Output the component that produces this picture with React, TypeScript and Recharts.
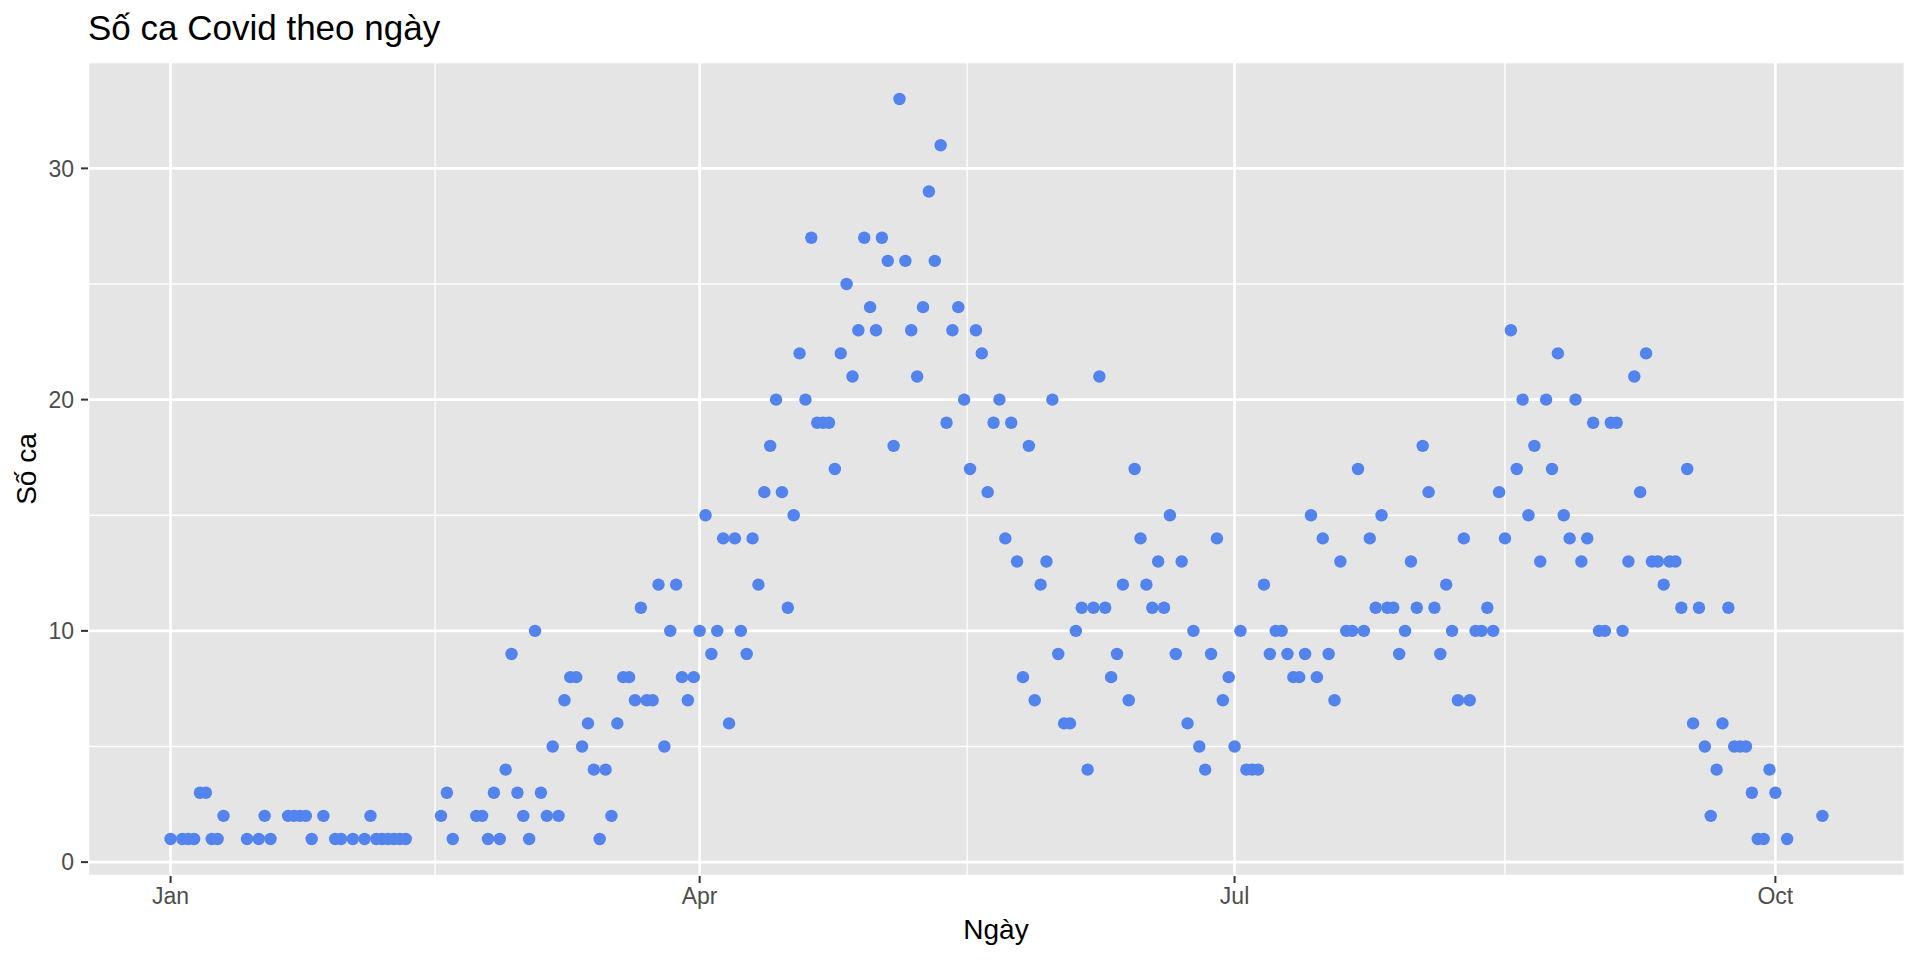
import { ScatterChart, Scatter, XAxis, YAxis, CartesianGrid } from "recharts"

const YEAR = 2021

// ngày có ca (MM-DD), bỏ các ngày 0 ca
const dates = [
  "01-01", "01-03", "01-04", "01-05", "01-06", "01-07", "01-08", "01-09", "01-10", "01-14", "01-16",
  "01-17", "01-18", "01-21", "01-22", "01-23", "01-24", "01-25", "01-27", "01-29", "01-30",
  "02-01", "02-03", "02-04", "02-05", "02-06", "02-07", "02-08", "02-09", "02-10", "02-16",
  "02-17", "02-18", "02-22", "02-23", "02-24", "02-25", "02-26", "02-27", "02-28",
  "03-01", "03-02", "03-03", "03-04", "03-05", "03-06", "03-07", "03-08", "03-09", "03-10", "03-11",
  "03-12", "03-13", "03-14", "03-15", "03-16", "03-17", "03-18", "03-19", "03-20", "03-21", "03-22",
  "03-23", "03-24", "03-25", "03-26", "03-27", "03-28", "03-29", "03-30", "03-31",
  "04-01", "04-02", "04-03", "04-04", "04-05", "04-06", "04-07", "04-08", "04-09", "04-10",
  "04-11", "04-12", "04-13", "04-14", "04-15", "04-16", "04-17", "04-18", "04-19", "04-20",
  "04-21", "04-22", "04-23", "04-24", "04-25", "04-26", "04-27", "04-28", "04-29", "04-30",
  "05-01", "05-02", "05-03", "05-04", "05-05", "05-06", "05-07", "05-08", "05-09", "05-10", "05-11",
  "05-12", "05-13", "05-14", "05-15", "05-16", "05-17", "05-18", "05-19", "05-20", "05-21",
  "05-22", "05-23", "05-24", "05-25", "05-26", "05-27", "05-28", "05-29", "05-30", "05-31",
  "06-01", "06-02", "06-03", "06-04", "06-05", "06-06", "06-07", "06-08", "06-09", "06-10",
  "06-11", "06-12", "06-13", "06-14", "06-15", "06-16", "06-17", "06-18", "06-19", "06-20",
  "06-21", "06-22", "06-23", "06-24", "06-25", "06-26", "06-27", "06-28", "06-29", "06-30",
  "07-01", "07-02", "07-03", "07-04", "07-05", "07-06", "07-07", "07-08", "07-09", "07-10", "07-11",
  "07-12", "07-13", "07-14", "07-15", "07-16", "07-17", "07-18", "07-19", "07-20", "07-21",
  "07-22", "07-23", "07-24", "07-25", "07-26", "07-27", "07-28", "07-29", "07-30", "07-31",
  "08-01", "08-02", "08-03", "08-04", "08-05", "08-06", "08-07", "08-08", "08-09", "08-10", "08-11",
  "08-12", "08-13", "08-14", "08-15", "08-16", "08-17", "08-18", "08-19", "08-20", "08-21",
  "08-22", "08-23", "08-24", "08-25", "08-26", "08-27", "08-28", "08-29", "08-30", "08-31",
  "09-01", "09-02", "09-03", "09-04", "09-05", "09-06", "09-07", "09-08", "09-09", "09-10",
  "09-11", "09-12", "09-13", "09-14", "09-15", "09-16", "09-17", "09-18", "09-19", "09-20",
  "09-21", "09-22", "09-23", "09-24", "09-25", "09-26", "09-27", "09-28", "09-29", "09-30",
  "10-01", "10-03", "10-09",
]

const cases = [
  1, 1, 1, 1, 3, 3, 1, 1, 2, 1, 1, 2, 1, 2, 2, 2, 2, 1, 2, 1, 1,
  1, 1, 2, 1, 1, 1, 1, 1, 1, 2, 3, 1, 2, 2, 1, 3, 1, 4, 9,
  3, 2, 1, 10, 3, 2, 5, 2, 7, 8, 8, 5, 6, 4, 1, 4, 2, 6, 8, 8, 7, 11, 7, 7, 12, 5, 10, 12, 8, 7, 8,
  10, 15, 9, 10, 14, 6, 14, 10, 9, 14, 12, 16, 18, 20, 16, 11, 15, 22, 20, 27, 19, 19, 19, 17, 22, 25, 21, 23, 27, 24,
  23, 27, 26, 18, 33, 26, 23, 21, 24, 29, 26, 31, 19, 23, 24, 20, 17, 23, 22, 16, 19, 20, 14, 19, 13, 8, 18, 7, 12, 13, 20,
  9, 6, 6, 10, 11, 4, 11, 21, 11, 8, 9, 12, 7, 17, 14, 12, 11, 13, 11, 15, 9, 13, 6, 10, 5, 4, 9, 14, 7, 8,
  5, 10, 4, 4, 4, 12, 9, 10, 10, 9, 8, 8, 9, 15, 8, 14, 9, 7, 13, 10, 10, 17, 10, 14, 11, 15, 11, 11, 9, 10, 13,
  11, 18, 16, 11, 9, 12, 10, 7, 14, 7, 10, 10, 11, 10, 16, 14, 23, 17, 20, 15, 18, 13, 20, 17, 22, 15, 14, 20, 13, 14, 19,
  10, 10, 19, 19, 10, 13, 21, 16, 22, 13, 13, 12, 13, 13, 11, 17, 6, 11, 5, 2, 4, 6, 11, 5, 5, 5, 3, 1, 1, 4,
  3, 1, 2,
]

const monthTicks = ["01-01", "04-01", "07-01", "10-01"]
const monthLabels = ["Jan", "Apr", "Jul", "Oct"]
const caseTicks = [0, 10, 20, 30]
const minorCaseTicks = [5, 15, 25]

const toTime = (md: string) => {
  const [m, d] = md.split("-").map(Number)
  return Date.UTC(YEAR, m - 1, d)
}

const data = dates.map((d, i) => ({ t: toTime(d), cases: cases[i] }))

// ggplot-style 5% expansion
const tMin = Math.min(...data.map((p) => p.t))
const tMax = Math.max(...data.map((p) => p.t))
const xPad = (tMax - tMin) * 0.05
const cMin = Math.min(...cases)
const cMax = Math.max(...cases)
const yPad = (cMax - cMin) * 0.05

const tickTimes = monthTicks.map(toTime)
const minorTimes = tickTimes.slice(1).map((t, i) => (t + tickTimes[i]) / 2)

const FONT = '"Liberation Sans", Arial, Helvetica, sans-serif'
const POINT = "#5383EC"

export default function App() {
  return (
    <div style={{ position: "absolute", left: 0, top: 0, width: 1920, height: 960, background: "#fff", fontFamily: FONT }}>
      <div style={{ position: "absolute", left: 88, top: 10, fontSize: 35, lineHeight: "35px", color: "#000", whiteSpace: "nowrap" }}>
        Số ca Covid theo ngày
      </div>
      <ScatterChart width={1920} height={960} margin={{ top: 62, right: 15, left: 0, bottom: 0 }}>
        <CartesianGrid
          fill="#E5E5E5"
          stroke="#FFFFFF"
          strokeWidth={1.3}
          horizontalValues={minorCaseTicks}
          verticalValues={minorTimes}
        />
        <CartesianGrid stroke="#FFFFFF" strokeWidth={2.6} />
        <XAxis
          dataKey="t"
          type="number"
          domain={[tMin - xPad, tMax + xPad]}
          allowDataOverflow
          ticks={tickTimes}
          interval={0}
          tickFormatter={(v: number) => monthLabels[tickTimes.indexOf(v)]}
          height={84}
          tickSize={7}
          tickMargin={5}
          axisLine={false}
          tickLine={{ stroke: "#333333", strokeWidth: 2 }}
          tick={{ fill: "#4D4D4D", fontSize: 23, fontFamily: FONT }}
        />
        <YAxis
          dataKey="cases"
          type="number"
          domain={[cMin - yPad, cMax + yPad]}
          allowDataOverflow
          ticks={caseTicks}
          interval={0}
          width={88}
          tickSize={7}
          tickMargin={7}
          axisLine={false}
          tickLine={{ stroke: "#333333", strokeWidth: 2 }}
          tick={{ fill: "#4D4D4D", fontSize: 23, fontFamily: FONT }}
        />
        <Scatter
          data={data}
          isAnimationActive={false}
          shape={(p: any) => <circle cx={p.cx} cy={p.cy} r={6.2} fill={POINT} />}
        />
      </ScatterChart>
      <div style={{ position: "absolute", left: 896, width: 200, top: 916, textAlign: "center", fontSize: 28, lineHeight: "28px", color: "#000" }}>
        Ngày
      </div>
      <div
        style={{
          position: "absolute",
          left: 27 - 100,
          top: 469 - 14,
          width: 200,
          textAlign: "center",
          fontSize: 28,
          lineHeight: "28px",
          color: "#000",
          transform: "rotate(-90deg)",
        }}
      >
        Số ca
      </div>
    </div>
  )
}
